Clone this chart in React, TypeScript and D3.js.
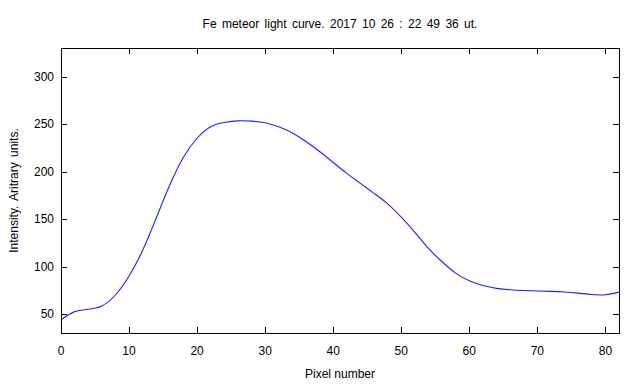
import React from "react";
import * as d3 from "d3";

const pixelX = [0, 2, 4, 6, 8, 10, 12, 14, 16, 18, 20, 22, 24, 26, 28, 30, 32, 34, 36, 38, 40, 42, 44, 46, 48, 50, 52, 54, 56, 58, 60, 62, 64, 66, 68, 70, 72, 74, 76, 78, 80, 82];
const intensity = [44, 52.5, 55, 58.5, 70, 90, 117, 151, 186, 215, 235, 247, 251.5, 253.3, 253, 251.3, 247, 240.5, 231.5, 221, 209.5, 198, 187.5, 177, 166, 152, 136, 119, 105, 93, 85, 80, 77, 75.5, 74.7, 74.2, 73.8, 73.2, 72, 70.5, 70.3, 73];
const xTicks = [0, 10, 20, 30, 40, 50, 60, 70, 80];
const yTicks = [50, 100, 150, 200, 250, 300];
const title = "Fe meteor light curve. 2017 10 26 : 22 49 36 ut.";
const xLabel = "Pixel number";
const yLabel = "Intensity. Aritrary units.";

const W = 640, H = 384;
const L = 61, R = 619, T = 48, B = 333;
const font = "'Liberation Sans', Arial, sans-serif";

export default function App() {
  const x = d3.scaleLinear().domain([0, 82]).range([L, R]);
  const y = d3.scaleLinear().domain([30, 330]).range([B, T]);
  const data = pixelX.map((px, i) => [px, intensity[i]] as [number, number]);
  const line = d3.line<[number, number]>().x(d => x(d[0])).y(d => y(d[1])).curve(d3.curveNatural);
  const tl = 6;
  return (
    <svg width={W} height={H} style={{ position: "absolute", left: 0, top: 0, background: "#fff" }} fontFamily={font} fontSize={12}>
      <rect x={0} y={0} width={W} height={H} fill="#fff" />
      <path d={line(data) || ""} fill="none" stroke="#2020ff" strokeWidth={1.1} />
      <g shapeRendering="crispEdges" stroke="#000" strokeWidth={1}>
        {xTicks.map(t => (
          <g key={"x" + t}>
            <line x1={Math.round(x(t)) + 0.5} x2={Math.round(x(t)) + 0.5} y1={B} y2={B - tl} />
            <line x1={Math.round(x(t)) + 0.5} x2={Math.round(x(t)) + 0.5} y1={T} y2={T + tl} />
          </g>
        ))}
        {yTicks.map(t => (
          <g key={"y" + t}>
            <line x1={L} x2={L + tl} y1={Math.round(y(t)) + 0.5} y2={Math.round(y(t)) + 0.5} />
            <line x1={R} x2={R - tl} y1={Math.round(y(t)) + 0.5} y2={Math.round(y(t)) + 0.5} />
          </g>
        ))}
        <rect x={L + 0.5} y={T + 0.5} width={R - L} height={B - T} fill="none" />
      </g>
      {xTicks.map(t => (
        <text key={"xl" + t} x={x(t)} y={355} textAnchor="middle" fill="#000">{t}</text>
      ))}
      {yTicks.map(t => (
        <text key={"yl" + t} x={54} y={y(t) + 4} textAnchor="end" fill="#000">{t}</text>
      ))}
      <text x={340} y={28} textAnchor="middle" fill="#000" wordSpacing={2}>{title}</text>
      <text x={340} y={378} textAnchor="middle" fill="#000">{xLabel}</text>
      <text transform={`translate(18,${(T + B) / 2}) rotate(-90)`} textAnchor="middle" fill="#000" wordSpacing={2}>{yLabel}</text>
    </svg>
  );
}
